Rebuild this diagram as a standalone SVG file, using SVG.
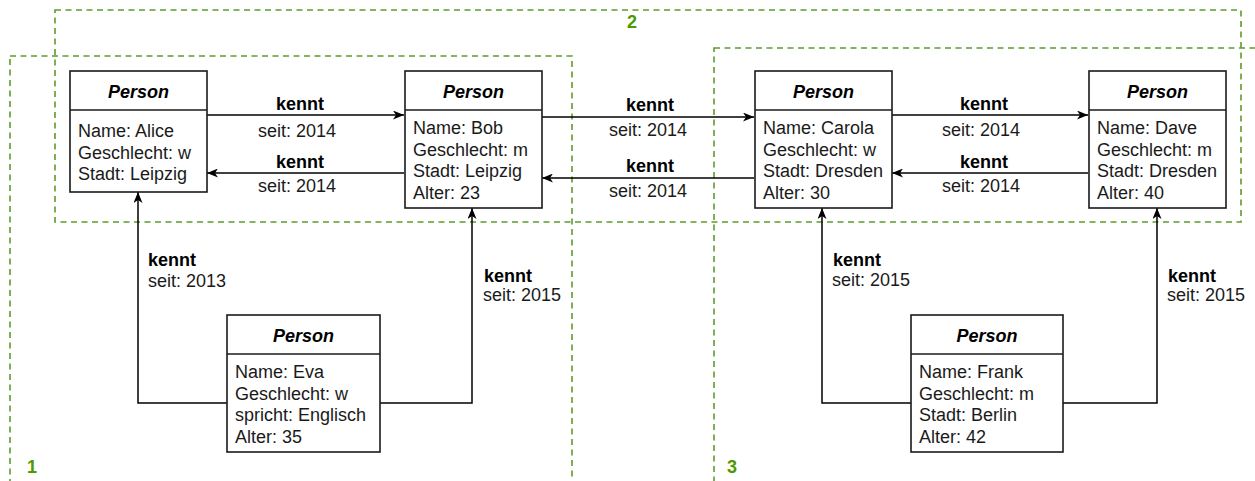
<svg xmlns="http://www.w3.org/2000/svg" width="1255" height="481" viewBox="0 0 1255 481">
<style>
.grp{fill:none;stroke:#5f9b2a;stroke-width:1.6;stroke-dasharray:6 4.5}
.gl{font-family:"Liberation Sans",Arial,sans-serif;font-size:18px;font-weight:bold;fill:#4d9900}
.box{fill:#fff;stroke:#1a1a1a;stroke-width:1.6}
.div{stroke:#1a1a1a;stroke-width:1.6}
.hd{font-family:"Liberation Sans",Arial,sans-serif;font-size:18px;font-weight:bold;font-style:italic;fill:#000;text-anchor:middle}
.tx{font-family:"Liberation Sans",Arial,sans-serif;font-size:18px;fill:#1a1a1a}
.k{font-family:"Liberation Sans",Arial,sans-serif;font-size:18px;font-weight:bold;fill:#000}
.s{font-family:"Liberation Sans",Arial,sans-serif;font-size:18px;fill:#1a1a1a}
.m{text-anchor:middle}
.ln{fill:none;stroke:#000;stroke-width:1.5;marker-end:url(#arr)}
</style>
<defs>
<marker id="arr" markerUnits="userSpaceOnUse" viewBox="0 0 11 9" refX="11" refY="4.5" markerWidth="11" markerHeight="9" orient="auto">
<path d="M0,0 L11,4.5 L0,9 L3,4.5 Z" fill="#000"/>
</marker>
</defs>
<rect width="1255" height="481" fill="#fff"/>
<g id="groups">
<rect class="grp" x="55" y="10" width="1186" height="212"/>
<rect class="grp" x="10" y="56" width="562" height="440"/>
<rect class="grp" x="714" y="48" width="560" height="450"/>
<text class="gl" x="627" y="28">2</text>
<text class="gl" x="27" y="473">1</text>
<text class="gl" x="727" y="473">3</text>
</g>
<g id="connectors">
<path class="ln" d="M207,115 L404,115"/>
<path class="ln" d="M404,173 L207,173"/>
<path class="ln" d="M542,117 L754,117"/>
<path class="ln" d="M754,178 L542,178"/>
<path class="ln" d="M892,115 L1088,115"/>
<path class="ln" d="M1088,173 L892,173"/>
<path class="ln" d="M227,403 L138,403 L138,192"/>
<path class="ln" d="M380,403 L472,403 L472,208"/>
<path class="ln" d="M911,403 L822,403 L822,208"/>
<path class="ln" d="M1063,403 L1157,403 L1157,208"/>
<text class="k m" x="300" y="110">kennt</text>
<text class="s m" x="297" y="136.5">seit: 2014</text>
<text class="k m" x="300" y="168">kennt</text>
<text class="s m" x="297" y="191.5">seit: 2014</text>
<text class="k m" x="650" y="110.5">kennt</text>
<text class="s m" x="648" y="136">seit: 2014</text>
<text class="k m" x="650" y="172">kennt</text>
<text class="s m" x="648" y="197">seit: 2014</text>
<text class="k m" x="984" y="110">kennt</text>
<text class="s m" x="981" y="135.5">seit: 2014</text>
<text class="k m" x="984" y="168">kennt</text>
<text class="s m" x="981" y="191.5">seit: 2014</text>
<text class="k" x="148" y="266">kennt</text>
<text class="s" x="148" y="286.5">seit: 2013</text>
<text class="k" x="484" y="282">kennt</text>
<text class="s" x="483" y="301">seit: 2015</text>
<text class="k" x="833" y="266">kennt</text>
<text class="s" x="832" y="286">seit: 2015</text>
<text class="k" x="1168" y="282">kennt</text>
<text class="s" x="1167" y="301">seit: 2015</text>
</g>
<g id="alice">
<rect class="box" x="70" y="71" width="137" height="121"/>
<line class="div" x1="70" y1="110" x2="207" y2="110"/>
<text class="hd" x="138.5" y="97.5">Person</text>
<text class="tx" x="78" y="137">Name: Alice</text>
<text class="tx" x="78" y="158.5">Geschlecht: w</text>
<text class="tx" x="78" y="180">Stadt: Leipzig</text>
</g>
<g id="bob">
<rect class="box" x="405" y="71" width="137" height="137"/>
<line class="div" x1="405" y1="110" x2="542" y2="110"/>
<text class="hd" x="473.5" y="97.5">Person</text>
<text class="tx" x="413" y="134">Name: Bob</text>
<text class="tx" x="413" y="155.5">Geschlecht: m</text>
<text class="tx" x="413" y="177">Stadt: Leipzig</text>
<text class="tx" x="413" y="198.5">Alter: 23</text>
</g>
<g id="carola">
<rect class="box" x="755" y="71" width="137" height="137"/>
<line class="div" x1="755" y1="110" x2="892" y2="110"/>
<text class="hd" x="823.5" y="97.5">Person</text>
<text class="tx" x="763" y="134">Name: Carola</text>
<text class="tx" x="763" y="155.5">Geschlecht: w</text>
<text class="tx" x="763" y="177">Stadt: Dresden</text>
<text class="tx" x="763" y="198.5">Alter: 30</text>
</g>
<g id="dave">
<rect class="box" x="1089" y="71" width="137" height="137"/>
<line class="div" x1="1089" y1="110" x2="1226" y2="110"/>
<text class="hd" x="1157.5" y="97.5">Person</text>
<text class="tx" x="1097" y="134">Name: Dave</text>
<text class="tx" x="1097" y="155.5">Geschlecht: m</text>
<text class="tx" x="1097" y="177">Stadt: Dresden</text>
<text class="tx" x="1097" y="198.5">Alter: 40</text>
</g>
<g id="eva">
<rect class="box" x="227" y="315" width="153" height="137"/>
<line class="div" x1="227" y1="354" x2="380" y2="354"/>
<text class="hd" x="303.5" y="341.5">Person</text>
<text class="tx" x="235" y="378">Name: Eva</text>
<text class="tx" x="235" y="399.5">Geschlecht: w</text>
<text class="tx" x="235" y="421">spricht: Englisch</text>
<text class="tx" x="235" y="442.5">Alter: 35</text>
</g>
<g id="frank">
<rect class="box" x="911" y="315" width="152" height="137"/>
<line class="div" x1="911" y1="354" x2="1063" y2="354"/>
<text class="hd" x="987" y="341.5">Person</text>
<text class="tx" x="919" y="378">Name: Frank</text>
<text class="tx" x="919" y="399.5">Geschlecht: m</text>
<text class="tx" x="919" y="421">Stadt: Berlin</text>
<text class="tx" x="919" y="442.5">Alter: 42</text>
</g>
</svg>
